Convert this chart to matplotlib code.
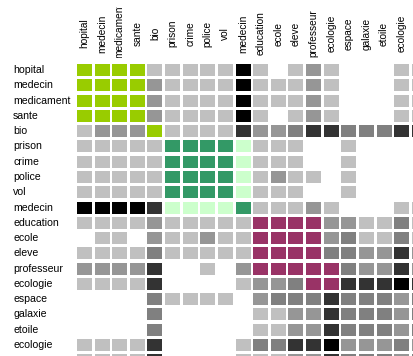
import matplotlib
matplotlib.use("Agg")
import matplotlib.pyplot as plt
from matplotlib.patches import Rectangle
from matplotlib.transforms import blended_transform_factory, Bbox, TransformedBbox

# ---- data -------------------------------------------------------------
row_labels = ["hopital", "medecin", "medicament", "sante", "bio",
              "prison", "crime", "police", "vol", "medecin",
              "education", "ecole", "eleve", "professeur", "ecologie",
              "espace", "galaxie", "etoile", "ecologie", ""]
col_labels = ["hopital", "medecin", "medicament", "sante", "bio",
              "prison", "crime", "police", "vol", "medecin",
              "education", "ecole", "eleve", "professeur", "ecologie",
              "espace", "galaxie", "etoile", "ecologie", ""]

# cell level codes: 0 empty, 1..5 grey levels (light -> black),
# G / T / P / L group colours
cells = [
    "GGGG1111151012100011",
    "GGGG2111151112100011",
    "GGGG2111151112100011",
    "GGGG2111151012100011",
    "1222G111142234433344",
    "11111TTTTL1110010000",
    "11111TTTTL1110010000",
    "11111TTTTL1211010000",
    "11111TTTTL1110010000",
    "55554LLLLT1112100011",
    "1111211111PPPP221131",
    "0110211211PPPP231131",
    "1111311111PPPP332242",
    "2222400102PPPPP32242",
    "1111400001223PP44454",
    "00003111102333433323",
    "00003000001122433323",
    "00003000001122433323",
    "11114000013344522232",
    "11114000011122433323",
]

palette = {"1": "#C0C0C0", "2": "#969696", "3": "#808080", "4": "#333333",
           "5": "#000000", "G": "#99CC00", "T": "#339966", "P": "#993366",
           "L": "#CCFFCC"}

# ---- layout -----------------------------------------------------------
W, H = 413, 356
fig = plt.figure(figsize=(W / 100, H / 100), dpi=100)
fig.patch.set_facecolor("white")

pitch_x, pitch_y = 17.62, 15.28
cell_w, cell_h = 15.0, 12.0
first_x, first_y = 77.0, 64.0
x0 = first_x - (pitch_x - cell_w) / 2
y0 = first_y - (pitch_y - cell_h) / 2
n = len(cells)
ax = fig.add_axes([x0 / W, 1 - (y0 + n * pitch_y) / H,
                   n * pitch_x / W, n * pitch_y / H])
ax.set_xlim(0, n)
ax.set_ylim(n, 0)
ax.axis("off")

gx = (1 - cell_w / pitch_x) / 2
gy = (1 - cell_h / pitch_y) / 2
for r, row in enumerate(cells):
    for c, code in enumerate(row):
        if code == "0":
            continue
        ax.add_patch(Rectangle((c + gx, r + gy), 1 - 2 * gx, 1 - 2 * gy,
                               facecolor=palette[code], edgecolor="none",
                               antialiased=False))

font = "Liberation Sans"
row_tr = blended_transform_factory(fig.transFigure, ax.transData)
for r, lab in enumerate(row_labels):
    if lab:
        ax.text(13 / W, r + 0.5, lab, transform=row_tr, ha="left",
                va="center", fontsize=7.6, family=font, color="black",
                clip_on=False)

band_top, band_bot = 7.0, 58.0
clip = TransformedBbox(Bbox.from_extents(0, 1 - band_bot / H, 1, 1 - band_top / H),
                       fig.transFigure)
col_tr = blended_transform_factory(ax.transData, fig.transFigure)
texts = []
for c, lab in enumerate(col_labels):
    if not lab:
        continue
    t = ax.text(c + 0.5, 1 - 33.5 / H, lab, transform=col_tr, rotation=90,
                ha="center", va="center", fontsize=7.3, family=font,
                color="black")
    t.set_clip_box(clip)
    t.set_clip_on(True)
    texts.append(t)

renderer = fig.canvas.get_renderer()
for t in texts:
    ext = t.get_window_extent(renderer)
    if ext.height > (band_bot - band_top):
        t.set_va("bottom")
        t.set_y(1 - (band_bot - 0.5) / H)

fig.savefig("out.png", dpi=100)
